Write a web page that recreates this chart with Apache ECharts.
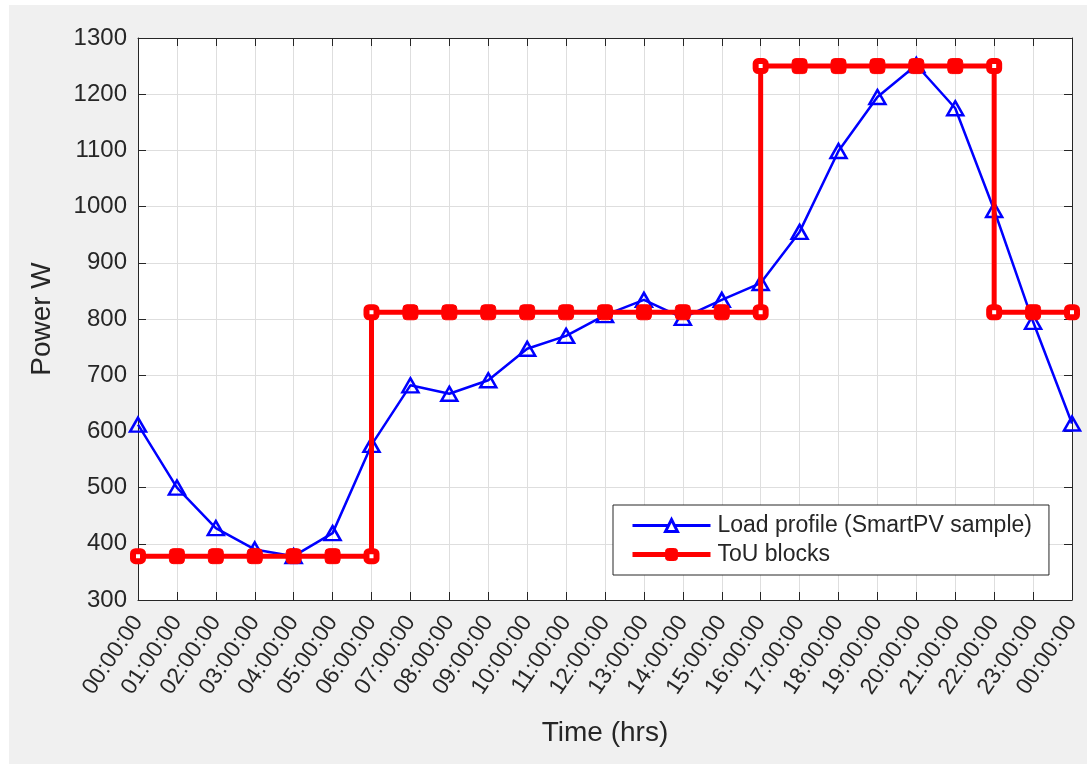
<!DOCTYPE html>
<html>
<head>
<meta charset="utf-8">
<script src="https://cdn.jsdelivr.net/npm/echarts@6/dist/echarts.min.js"></script>
<style>
  html, body { margin: 0; padding: 0; background: #ffffff; width: 1087px; height: 764px; overflow: hidden; }
  #chart { position: absolute; left: 9px; top: 5px; width: 1078px; height: 759px; background: #f0f0f0; }
</style>
</head>
<body>
<div id="chart"></div>
<script>
// Hour tick labels (0..24 h)
const hourLabels = [
  '00:00:00','01:00:00','02:00:00','03:00:00','04:00:00','05:00:00','06:00:00',
  '07:00:00','08:00:00','09:00:00','10:00:00','11:00:00','12:00:00','13:00:00',
  '14:00:00','15:00:00','16:00:00','17:00:00','18:00:00','19:00:00','20:00:00',
  '21:00:00','22:00:00','23:00:00','00:00:00'
];

// Hourly load profile (W)
const loadHours = [0,1,2,3,4,5,6,7,8,9,10,11,12,13,14,15,16,17,18,19,20,21,22,23,24];
const loadPower = [612,500,428,390,378,419,576,682,667,691,747,770,807,834,802,834,864,955,1099,1195,1252,1175,994,795,614];

// Time-of-use blocks (step edges repeat the hour)
const touHours = [0,1,2,3,4,5,6, 6,7,8,9,10,11,12,13,14,15,16, 16,17,18,19,20,21,22, 22,23,24];
const touPower = [378,378,378,378,378,378,378, 812,812,812,812,812,812,812,812,812,812,812, 1250,1250,1250,1250,1250,1250,1250, 812,812,812];

const yTicks = { min: 300, max: 1300, step: 100 };

const BLUE = '#0000ff';
const RED = '#ff0000';
const INK = '#262626';
const FONT = '"Liberation Sans", Arial, sans-serif';

const loadData = loadHours.map((h, i) => [h, loadPower[i]]);

// Block end points are drawn as hollow squares, inner points as filled squares
const touData = touHours.map((h, i) => {
  const prevSame = i > 0 && touPower[i - 1] === touPower[i];
  const nextSame = i < touPower.length - 1 && touPower[i + 1] === touPower[i];
  const edge = !(prevSame && nextSame);
  return edge
    ? { value: [h, touPower[i]], symbolSize: 10, itemStyle: { color: '#ffffff', borderColor: RED, borderWidth: 6 } }
    : { value: [h, touPower[i]] };
});

const chart = echarts.init(document.getElementById('chart'), null, { renderer: 'canvas' });

const gridBox = { left: 129, top: 33, right: 15, bottom: 164 };

chart.setOption({
  backgroundColor: '#f0f0f0',
  animation: false,
  textStyle: { fontFamily: FONT },
  grid: Object.assign({ show: true, backgroundColor: '#ffffff', borderWidth: 0, containLabel: false }, gridBox),
  legend: {
    orient: 'vertical',
    left: 604,
    top: 500,
    backgroundColor: '#ffffff',
    borderColor: INK,
    borderWidth: 1,
    borderRadius: 0,
    padding: [9, 17, 9, 17],
    itemGap: 6,
    itemWidth: 78,
    itemHeight: 15,
    textStyle: { fontFamily: FONT, fontSize: 23, color: INK, padding: [0, 0, 0, 2] },
    data: [
      {
        name: 'Load profile (SmartPV sample)',
        lineStyle: { color: BLUE, width: 3 },
        itemStyle: { color: '#ffffff', borderColor: BLUE, borderWidth: 3 }
      },
      {
        name: 'ToU blocks',
        lineStyle: { color: RED, width: 5 },
        itemStyle: { color: RED, borderColor: RED, borderWidth: 1 }
      }
    ]
  },
  xAxis: [
    {
      type: 'value',
      min: 0, max: 24, interval: 1,
      position: 'bottom',
      name: 'Time (hrs)',
      nameLocation: 'middle',
      nameGap: 119,
      nameTextStyle: { fontFamily: FONT, fontSize: 28, color: INK },
      axisLine: { show: true, onZero: false, lineStyle: { color: INK, width: 1 } },
      axisTick: { show: true, inside: true, length: 8, lineStyle: { color: INK } },
      axisLabel: {
        show: true, rotate: 56, margin: 18, fontSize: 23, color: INK, fontFamily: FONT,
        formatter: v => hourLabels[v] || ''
      },
      splitLine: { show: true, lineStyle: { color: '#dedede', width: 1 } }
    },
    {
      type: 'value',
      min: 0, max: 24, interval: 1,
      position: 'top',
      axisLine: { show: true, onZero: false, lineStyle: { color: INK, width: 1 } },
      axisTick: { show: true, inside: true, length: 8, lineStyle: { color: INK } },
      axisLabel: { show: false },
      splitLine: { show: false }
    }
  ],
  yAxis: [
    {
      type: 'value',
      min: yTicks.min, max: yTicks.max, interval: yTicks.step,
      position: 'left',
      name: 'Power W',
      nameLocation: 'middle',
      nameGap: 82,
      nameRotate: 90,
      nameTextStyle: { fontFamily: FONT, fontSize: 28, color: INK },
      axisLine: { show: true, onZero: false, lineStyle: { color: INK, width: 1 } },
      axisTick: { show: true, inside: true, length: 8, lineStyle: { color: INK } },
      axisLabel: { show: true, margin: 11, fontSize: 24, color: INK, fontFamily: FONT, formatter: v => String(v) },
      splitLine: { show: true, lineStyle: { color: '#dedede', width: 1 } }
    },
    {
      type: 'value',
      min: yTicks.min, max: yTicks.max, interval: yTicks.step,
      position: 'right',
      axisLine: { show: true, onZero: false, lineStyle: { color: INK, width: 1 } },
      axisTick: { show: true, inside: true, length: 8, lineStyle: { color: INK } },
      axisLabel: { show: false },
      splitLine: { show: false }
    }
  ],
  series: [
    {
      name: 'Load profile (SmartPV sample)',
      type: 'line',
      xAxisIndex: 0,
      yAxisIndex: 0,
      data: loadData,
      z: 2,
      symbol: 'triangle',
      symbolSize: [16, 14],
      showAllSymbol: true,
      color: BLUE,
      lineStyle: { color: BLUE, width: 2.5 },
      itemStyle: { color: 'rgba(255,255,255,0)', borderColor: BLUE, borderWidth: 2.5 }
    },
    {
      name: 'ToU blocks',
      type: 'line',
      xAxisIndex: 0,
      yAxisIndex: 0,
      data: touData,
      z: 3,
      symbol: 'roundRect',
      symbolSize: 15,
      showAllSymbol: true,
      color: RED,
      lineStyle: { color: RED, width: 5 },
      itemStyle: { color: RED, borderColor: RED, borderWidth: 1 }
    }
  ]
});
</script>
</body>
</html>
